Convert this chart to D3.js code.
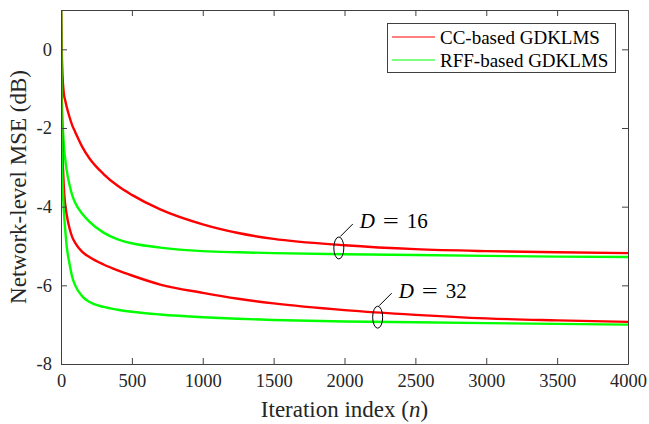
<!DOCTYPE html>
<html>
<head>
<meta charset="utf-8">
<script src="https://cdn.jsdelivr.net/npm/d3@7"></script>
<style>
  html, body { margin: 0; padding: 0; background: #fff; }
  svg { display: block; }
  svg text { font-family: "Liberation Serif", "Times New Roman", "DejaVu Serif", serif; }
</style>
</head>
<body>
<svg id="chart" width="649" height="424"></svg>
<script>
// ---- data ----
const iterations = [0, 5, 10, 20, 30, 40, 60, 80, 100, 150, 200, 300, 400, 500, 700, 1000, 1250, 1500, 2000, 2500, 3000, 3500, 4000];
const ccD16  = [1.1, 0.0, -0.6, -1.12, -1.30, -1.46, -1.72, -1.94, -2.10, -2.48, -2.77, -3.17, -3.47, -3.70, -4.07, -4.45, -4.67, -4.82, -4.98, -5.08, -5.13, -5.16, -5.18];
const rffD16 = [1.1, -1.0, -1.7, -2.42, -2.8, -3.07, -3.45, -3.72, -3.90, -4.18, -4.38, -4.66, -4.83, -4.93, -5.04, -5.13, -5.16, -5.18, -5.21, -5.23, -5.25, -5.27, -5.28];
const ccD32  = [1.1, -1.5, -2.5, -3.5, -3.95, -4.2, -4.55, -4.78, -4.92, -5.15, -5.28, -5.47, -5.62, -5.75, -5.98, -6.19, -6.34, -6.46, -6.63, -6.75, -6.84, -6.89, -6.93];
const rffD32 = [1.1, -2.6, -3.3, -4.1, -4.6, -5.0, -5.45, -5.8, -6.0, -6.28, -6.42, -6.55, -6.62, -6.67, -6.74, -6.81, -6.85, -6.88, -6.92, -6.94, -6.96, -6.98, -7.00];

const xTicks = [0, 500, 1000, 1500, 2000, 2500, 3000, 3500, 4000];
const yTicks = [-8, -6, -4, -2, 0];
const legendLabels = ["CC-based GDKLMS", "RFF-based GDKLMS"];
const annotLabels = ["16", "32"];
const annotIter = [1960, 2234];
const annotDb = [-5.05, -6.81];

// ---- layout ----
const W = 649, H = 424;
const L = 61, R = 628, T = 10, B = 364;
const FONT = '"Liberation Serif", "Times New Roman", "DejaVu Serif", serif';
const svg = d3.select("#chart");
const x = d3.scaleLinear().domain([0, 4000]).range([L, R]);
const y = d3.scaleLinear().domain([-8, 1]).range([B, T]);
const red = "#ff0000", green = "#00ff00", axisCol = "#404040";

svg.append("rect").attr("width", W).attr("height", H).attr("fill", "#fff");

svg.append("defs").append("clipPath").attr("id", "clip")
  .append("rect").attr("x", L).attr("y", T).attr("width", R - L).attr("height", B - T);

// ---- curves ----
const series = [
  {vals: ccD16, color: red},
  {vals: rffD16, color: green},
  {vals: ccD32, color: red},
  {vals: rffD32, color: green}
];
const line = d3.line()
  .x(d => x(d[0])).y(d => y(d[1]))
  .curve(d3.curveMonotoneX);
const gLines = svg.append("g").attr("clip-path", "url(#clip)");
series.forEach(s => {
  gLines.append("path")
    .datum(iterations.map((n, i) => [n, s.vals[i]]))
    .attr("fill", "none").attr("stroke", s.color)
    .attr("stroke-width", 2.4).attr("stroke-linejoin", "round")
    .attr("d", line);
});

// ---- axes (box with inward ticks on all sides) ----
const tickLen = 6;
const fmt = d => d3.format("d")(d).replace("\u2212", "-");
const axB = d3.axisBottom(x).tickValues(xTicks).tickSizeInner(-tickLen).tickSizeOuter(0).tickPadding(10).tickFormat(fmt);
const axT = d3.axisTop(x).tickValues(xTicks).tickSizeInner(-tickLen).tickSizeOuter(0).tickFormat("");
const axLft = d3.axisLeft(y).tickValues(yTicks).tickSizeInner(-tickLen).tickSizeOuter(0).tickPadding(9).tickFormat(fmt);
const axRgt = d3.axisRight(y).tickValues(yTicks).tickSizeInner(-tickLen).tickSizeOuter(0).tickFormat("");

function style(g) {
  g.attr("font-family", FONT).attr("font-size", 18.5);
  g.selectAll("path.domain").attr("stroke", axisCol).attr("stroke-width", 1);
  g.selectAll(".tick line").attr("stroke", axisCol).attr("stroke-width", 1);
  g.selectAll(".tick text").attr("fill", "#262626").attr("font-family", FONT).attr("font-size", 18.5);
}
svg.append("g").attr("transform", `translate(0,${B})`).call(axB).call(style);
svg.append("g").attr("transform", `translate(0,${T})`).call(axT).call(style);
svg.append("g").attr("transform", `translate(${L},0)`).call(axLft).call(style);
svg.append("g").attr("transform", `translate(${R},0)`).call(axRgt).call(style);

// ---- axis titles ----
const xt = svg.append("text").attr("x", (L + R) / 2).attr("y", 417)
  .attr("text-anchor", "middle").attr("font-family", FONT).attr("font-size", 23).attr("fill", "#262626");
xt.append("tspan").text("Iteration index (");
xt.append("tspan").attr("font-style", "italic").text("n");
xt.append("tspan").text(")");

svg.append("text")
  .attr("transform", `translate(26,${(T + B) / 2}) rotate(-90)`)
  .attr("text-anchor", "middle").attr("font-family", FONT).attr("font-size", 23).attr("fill", "#262626")
  .text("Network-level MSE (dB)");

// ---- legend ----
const lg = svg.append("g");
lg.append("rect").attr("x", 387.5).attr("y", 23.5).attr("width", 228).attr("height", 49)
  .attr("fill", "#fff").attr("stroke", axisCol).attr("stroke-width", 1);
[red, green].forEach((c, i) => {
  const yy = 37 + i * 23;
  lg.append("line").attr("x1", 392).attr("x2", 435).attr("y1", yy).attr("y2", yy)
    .attr("stroke", c).attr("stroke-width", 1.2);
  lg.append("text").attr("x", 440).attr("y", yy + 6.5)
    .attr("font-family", FONT).attr("font-size", 19)
    .attr("fill", "#000").text(legendLabels[i]);
});

// ---- annotations ----
annotLabels.forEach((lab, i) => {
  const cx = x(annotIter[i]), cy = y(annotDb[i]);
  const g = svg.append("g").attr("font-family", FONT).attr("font-size", 21).attr("fill", "#000");
  g.append("ellipse").attr("cx", cx).attr("cy", cy).attr("rx", 5).attr("ry", 11)
    .attr("fill", "none").attr("stroke", "#000").attr("stroke-width", 1);
  g.append("line").attr("x1", cx + 1.5).attr("y1", cy - 11.5).attr("x2", cx + 14).attr("y2", cy - 24)
    .attr("stroke", "#000").attr("stroke-width", 1);
  const tx = cx + 21, ty = cy - 19.5;
  g.append("text").attr("x", tx).attr("y", ty).attr("font-style", "italic").attr("font-family", FONT).text("D");
  g.append("text").attr("x", tx + 23).attr("y", ty).attr("font-family", FONT)
    .attr("transform", `translate(${tx + 23},${ty}) scale(1.35,1) translate(${-(tx + 23)},${-ty})`).text("=");
  g.append("text").attr("x", tx + 47).attr("y", ty).attr("font-family", FONT).text(lab);
});
</script>
</body>
</html>
